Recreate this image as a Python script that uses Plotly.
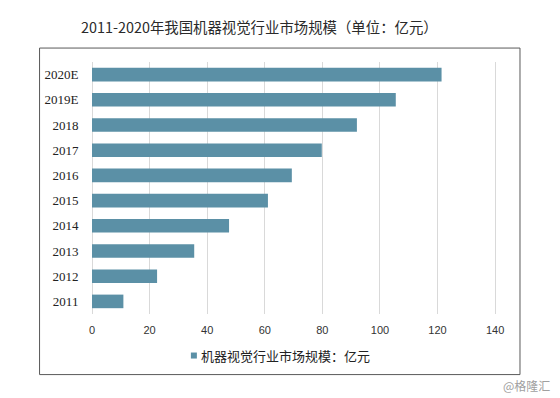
import plotly.graph_objects as go

categories = ["2011", "2012", "2013", "2014", "2015", "2016", "2017", "2018", "2019E", "2020E"]
values = [10.9, 22.6, 35.5, 47.6, 61.1, 69.4, 79.8, 92.0, 105.5, 121.4]
x_ticks = [0, 20, 40, 60, 80, 100, 120, 140]
series_name = "机器视觉行业市场规模：亿元"
title_text = "2011-2020年我国机器视觉行业市场规模（单位：亿元）"
watermark = "@格隆汇"

W, H = 560, 398
X_MAX = 141
scale = (495.6 - 92) / 140
L, T, B = 92, 62.4, 84.4
R = W - L - X_MAX * scale
pw, ph = W - L - R, H - T - B

def px_x(p):
    return (p - L) / pw

def px_y(p):
    return (H - B - p) / ph

bar_color = "#5B90A6"

fig = go.Figure()
fig.add_trace(go.Bar(
    x=values, y=categories, orientation="h",
    marker=dict(color=bar_color, line=dict(width=0)),
    name=series_name, showlegend=False, hoverinfo="skip",
))

fig.update_layout(
    width=W, height=H,
    margin=dict(l=L, r=R, t=T, b=B),
    paper_bgcolor="white", plot_bgcolor="white",
    bargap=0.46,
    font=dict(family="Noto Sans CJK SC", color="#333333"),
    xaxis=dict(
        range=[0, X_MAX], tickvals=x_ticks, showgrid=True, gridcolor="#d9d9d9", gridwidth=1,
        zeroline=True, zerolinecolor="#d9d9d9", zerolinewidth=1,
        showline=False, ticks="outside", ticklen=6, tickcolor="rgba(0,0,0,0)",
        tickfont=dict(family="Liberation Sans", size=11, color="#333333"),
        fixedrange=True,
    ),
    yaxis=dict(
        categoryorder="array", categoryarray=categories,
        showgrid=False, zeroline=False, showline=False,
        ticks="outside", ticklen=10, tickcolor="rgba(0,0,0,0)",
        tickfont=dict(family="Liberation Serif", size=13, color="#222222"),
        fixedrange=True,
    ),
    shapes=[
        dict(type="rect", xref="paper", yref="paper",
             x0=px_x(39.5), x1=px_x(520.5), y0=px_y(374), y1=px_y(48.5),
             line=dict(color="#595959", width=1), fillcolor="rgba(0,0,0,0)", layer="below"),
        dict(type="rect", xref="paper", yref="paper",
             x0=px_x(191), x1=px_x(197), y0=px_y(358), y1=px_y(352),
             line=dict(width=0), fillcolor=bar_color),
    ],
    annotations=[
        dict(text=title_text, xref="paper", yref="paper", x=px_x(260), y=px_y(27),
             xanchor="center", yanchor="middle", showarrow=False,
             font=dict(family="Noto Sans CJK SC", size=14.4, color="#2a2a2a")),
        dict(text=series_name, xref="paper", yref="paper", x=px_x(199), y=px_y(355),
             xanchor="left", yanchor="middle", showarrow=False,
             font=dict(family="Noto Sans CJK SC", size=13, color="#222222")),
        dict(text=watermark, xref="paper", yref="paper", x=px_x(553), y=px_y(385),
             xanchor="right", yanchor="middle", showarrow=False,
             font=dict(family="Noto Sans CJK SC", size=12, color="#a0a0a0")),
    ],
)

fig.write_html("out.html", config={"displayModeBar": False},
               post_script="document.body.style.margin='0';")
